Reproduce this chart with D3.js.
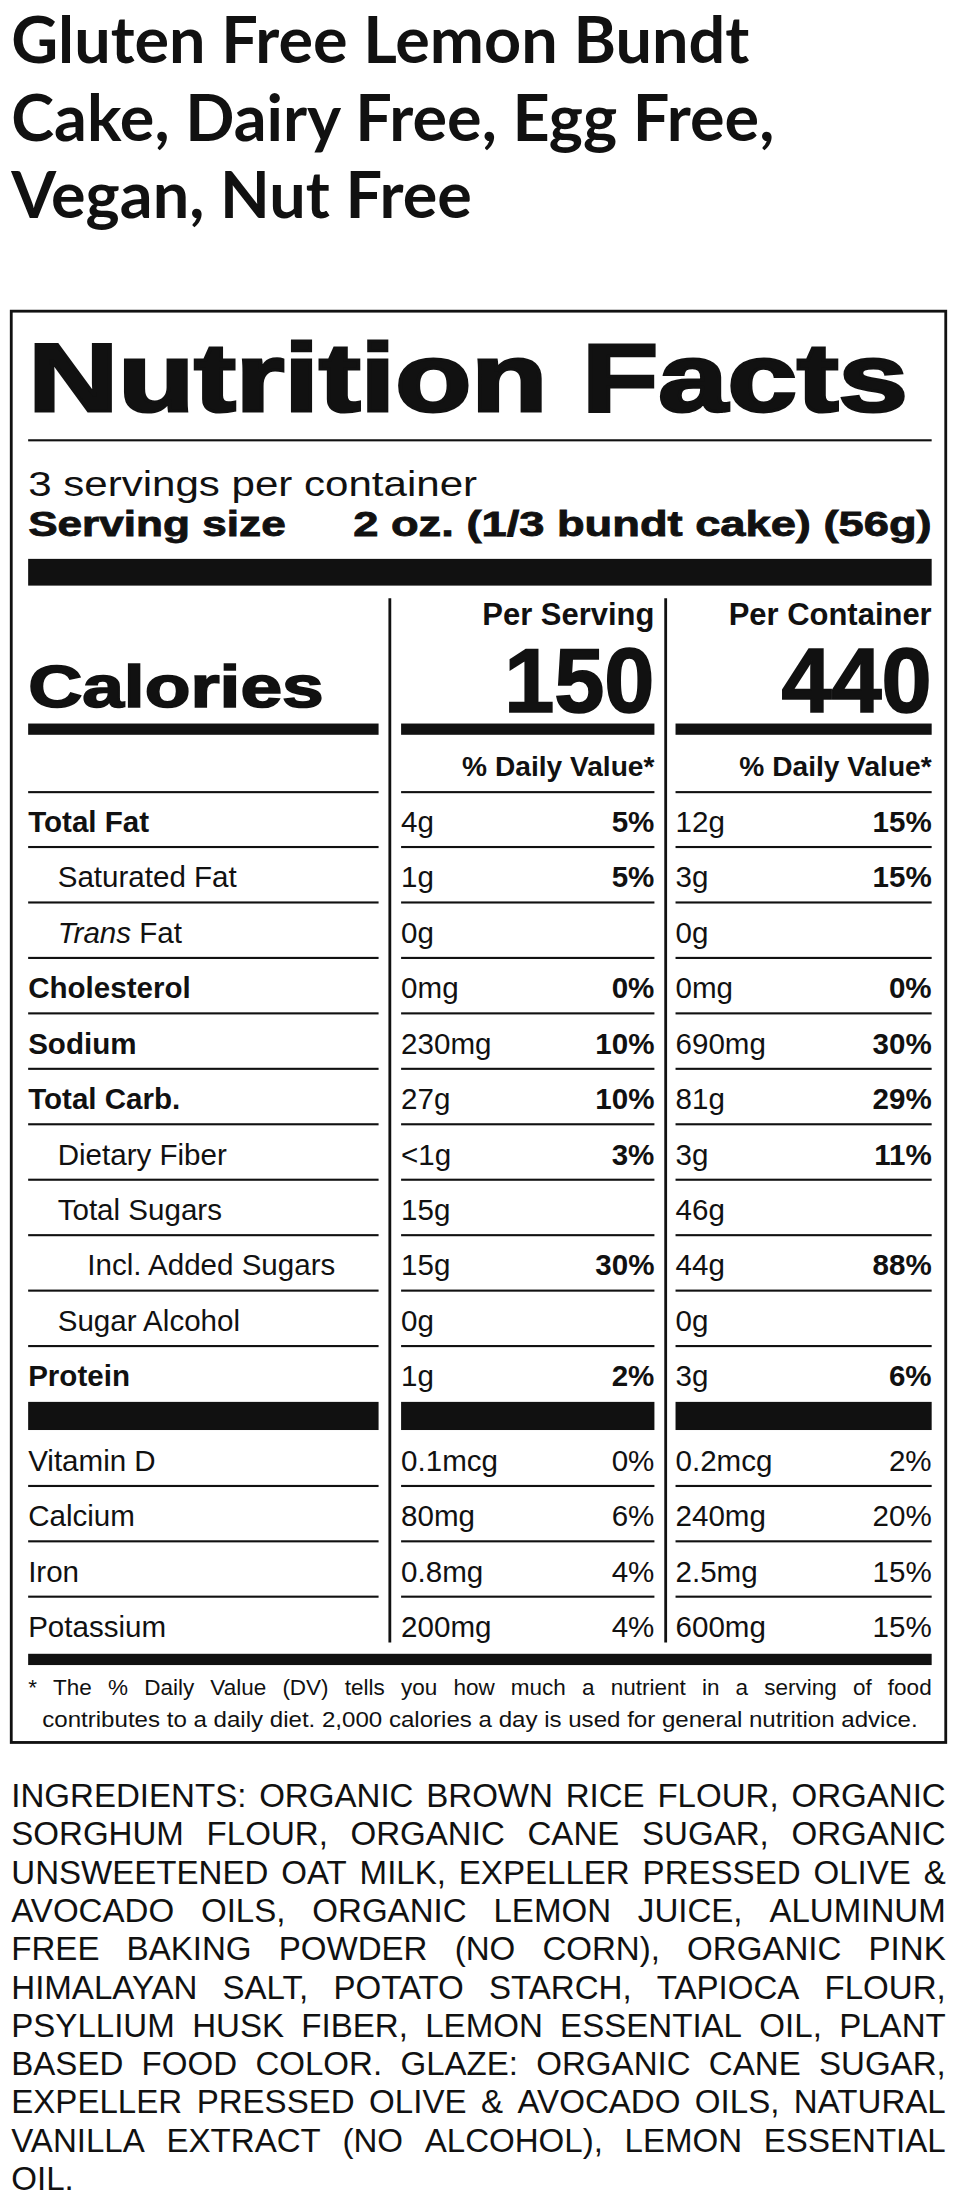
<!DOCTYPE html>
<html><head><meta charset="utf-8">
<script src="https://cdn.jsdelivr.net/npm/d3@7"></script>
<style>body{margin:0;background:#fff}svg{display:block}</style>
</head><body>
<script>
// Label data
var titleLines = ["Gluten Free Lemon Bundt", "Cake, Dairy Free, Egg Free,", "Vegan, Nut Free"];
var servingsText = "3 servings per container";
var servingSize = "2 oz. (1/3 bundt cake) (56g)";
var caloriesServing = 150, caloriesContainer = 440;

var nutrients = ["Total Fat", "Saturated Fat", "Trans Fat", "Cholesterol", "Sodium", "Total Carb.", "Dietary Fiber", "Total Sugars", "Incl. Added Sugars", "Sugar Alcohol", "Protein"];
var indent = [0, 1, 1, 0, 0, 0, 1, 1, 2, 1, 0];
var boldRow = [1, 0, 0, 1, 1, 1, 0, 0, 0, 0, 1];
var servAmt = ["4g", "1g", "0g", "0mg", "230mg", "27g", "<1g", "15g", "15g", "0g", "1g"];
var servDV = ["5%", "5%", "", "0%", "10%", "10%", "3%", "", "30%", "", "2%"];
var contAmt = ["12g", "3g", "0g", "0mg", "690mg", "81g", "3g", "46g", "44g", "0g", "3g"];
var contDV = ["15%", "15%", "", "0%", "30%", "29%", "11%", "", "88%", "", "6%"];

var vitamins = ["Vitamin D", "Calcium", "Iron", "Potassium"];
var vitServAmt = ["0.1mcg", "80mg", "0.8mg", "200mg"];
var vitServDV = ["0%", "6%", "4%", "4%"];
var vitContAmt = ["0.2mcg", "240mg", "2.5mg", "600mg"];
var vitContDV = ["2%", "20%", "15%", "15%"];

var footnote = ["* The % Daily Value (DV) tells you how much a nutrient in a serving of food",
  "contributes to a daily diet. 2,000 calories a day is used for general nutrition advice."];
var ingredients = ["INGREDIENTS: ORGANIC BROWN RICE FLOUR, ORGANIC",
  "SORGHUM FLOUR, ORGANIC CANE SUGAR, ORGANIC",
  "UNSWEETENED OAT MILK, EXPELLER PRESSED OLIVE &",
  "AVOCADO OILS, ORGANIC LEMON JUICE, ALUMINUM",
  "FREE BAKING POWDER (NO CORN), ORGANIC PINK",
  "HIMALAYAN SALT, POTATO STARCH, TAPIOCA FLOUR,",
  "PSYLLIUM HUSK FIBER, LEMON ESSENTIAL OIL, PLANT",
  "BASED FOOD COLOR. GLAZE: ORGANIC CANE SUGAR,",
  "EXPELLER PRESSED OLIVE & AVOCADO OILS, NATURAL",
  "VANILLA EXTRACT (NO ALCOHOL), LEMON ESSENTIAL",
  "OIL."];

var W = 680, H = 1563;
var svg = d3.select("body").append("svg")
  .attr("width", 957).attr("height", 2200)
  .attr("viewBox", "0 0 " + W + " " + H);
var sans = "'Liberation Sans', Arial, sans-serif";

// title
svg.selectAll(".title").data(titleLines).join("text")
  .attr("x", 8).attr("y", (d, i) => 45 + i * 55)
  .attr("font-family", "Lato, sans-serif").attr("font-weight", 700)
  .attr("font-size", 46).attr("fill", "#111").text(d => d);

// box
svg.append("rect").attr("x", 8).attr("y", 221).attr("width", 664).attr("height", 1017)
  .attr("fill", "none").attr("stroke", "#111").attr("stroke-width", 2);

function txt(x, y, s, size, opt) {
  opt = opt || {};
  return svg.append("text").attr("x", x).attr("y", y).text(s)
    .attr("font-family", sans).attr("font-size", size)
    .attr("font-weight", opt.bold ? 700 : 400)
    .attr("font-style", opt.italic ? "italic" : null)
    .attr("text-anchor", opt.anchor || "start").attr("fill", "#111");
}
function bar(x1, x2, y, h) {
  svg.append("rect").attr("x", x1).attr("y", y).attr("width", x2 - x1).attr("height", h).attr("fill", "#111");
}

txt(20, 292, "Nutrition Facts", 68, {bold: true})
  .attr("textLength", 625).attr("lengthAdjust", "spacingAndGlyphs")
  .attr("stroke", "#111").attr("stroke-width", 2.2);
bar(20, 662, 312, 1.5);
txt(20, 352, servingsText, 25).attr("textLength", 319).attr("lengthAdjust", "spacingAndGlyphs");
txt(20, 381, "Serving size", 25, {bold: true}).attr("textLength", 183).attr("lengthAdjust", "spacingAndGlyphs")
  .attr("stroke", "#111").attr("stroke-width", 0.6);
txt(662, 381, servingSize, 25, {bold: true, anchor: "end"}).attr("textLength", 411).attr("lengthAdjust", "spacingAndGlyphs")
  .attr("stroke", "#111").attr("stroke-width", 0.6);
bar(20, 662, 397, 19);

// columns
var c1L = 285, c1R = 465, c2L = 480, c2R = 662, lR = 269;
svg.append("line").attr("x1", 277).attr("x2", 277).attr("y1", 425).attr("y2", 1167).attr("stroke", "#111").attr("stroke-width", 2);
svg.append("line").attr("x1", 473).attr("x2", 473).attr("y1", 425).attr("y2", 1167).attr("stroke", "#111").attr("stroke-width", 2);

txt(c1R, 444, "Per Serving", 22, {bold: true, anchor: "end"});
txt(c2R, 444, "Per Container", 22, {bold: true, anchor: "end"});
txt(20, 502, "Calories", 42, {bold: true}).attr("stroke", "#111").attr("stroke-width", 1.2).attr("textLength", 210).attr("lengthAdjust", "spacingAndGlyphs");
txt(c1R, 506, caloriesServing, 64, {bold: true, anchor: "end"}).attr("stroke", "#111").attr("stroke-width", 1.2);
txt(c2R, 506, caloriesContainer, 64, {bold: true, anchor: "end"}).attr("stroke", "#111").attr("stroke-width", 1.2);
[[20, lR], [c1L, c1R], [c2L, c2R]].forEach(c => bar(c[0], c[1], 514, 8));
txt(c1R, 551, "% Daily Value*", 20, {bold: true, anchor: "end"});
txt(c2R, 551, "% Daily Value*", 20, {bold: true, anchor: "end"});
function rowLines(y) {
  [[20, lR], [c1L, c1R], [c2L, c2R]].forEach(c => bar(c[0], c[1], y, 1.5));
}
rowLines(562);

var yRow = d3.scaleLinear().domain([0, 10]).range([591, 985]);
nutrients.forEach((n, i) => {
  var y = yRow(i), b = !!boldRow[i], x = 20 + indent[i] * 21;
  if (n === "Trans Fat") {
    var t = txt(x, y, "", 21);
    t.append("tspan").attr("font-style", "italic").text("Trans");
    t.append("tspan").text(" Fat");
  } else txt(x, y, n, 21, {bold: b});
  txt(c1L, y, servAmt[i], 21);
  txt(c1R, y, servDV[i], 21, {bold: true, anchor: "end"});
  txt(c2L, y, contAmt[i], 21);
  txt(c2R, y, contDV[i], 21, {bold: true, anchor: "end"});
  if (i < nutrients.length - 1) rowLines(y + 10);
});
[[20, lR], [c1L, c1R], [c2L, c2R]].forEach(c => bar(c[0], c[1], 996, 20));

var yVit = d3.scaleLinear().domain([0, 3]).range([1045, 1163]);
vitamins.forEach((v, i) => {
  var y = yVit(i);
  txt(20, y, v, 21);
  txt(c1L, y, vitServAmt[i], 21);
  txt(c1R, y, vitServDV[i], 21, {anchor: "end"});
  txt(c2L, y, vitContAmt[i], 21);
  txt(c2R, y, vitContDV[i], 21, {anchor: "end"});
  if (i < vitamins.length - 1) rowLines(y + 10);
});
bar(20, 662, 1175, 8);

// justified text helper
function justify(line, x1, x2, y, size) {
  var words = line.split(" ");
  var g = svg.append("g");
  var nodes = words.map(w => g.append("text").attr("y", y).attr("font-family", sans)
    .attr("font-size", size).attr("fill", "#111").text(w));
  var widths = nodes.map(n => n.node().getComputedTextLength());
  var total = d3.sum(widths);
  var gap = words.length > 1 ? (x2 - x1 - total) / (words.length - 1) : 0;
  var x = x1;
  nodes.forEach((n, i) => { n.attr("x", x); x += widths[i] + gap; });
}
justify(footnote[0], 20, 662, 1204, 16);
txt(341, 1227, footnote[1], 16, {anchor: "middle"}).attr("textLength", 622).attr("lengthAdjust", "spacingAndGlyphs");

ingredients.forEach((l, i) => {
  var y = 1284 + i * 27.2;
  if (i < ingredients.length - 1) justify(l, 8, 672, y, 23.5);
  else txt(8, y, l, 23.5);
});
</script>
</body></html>
